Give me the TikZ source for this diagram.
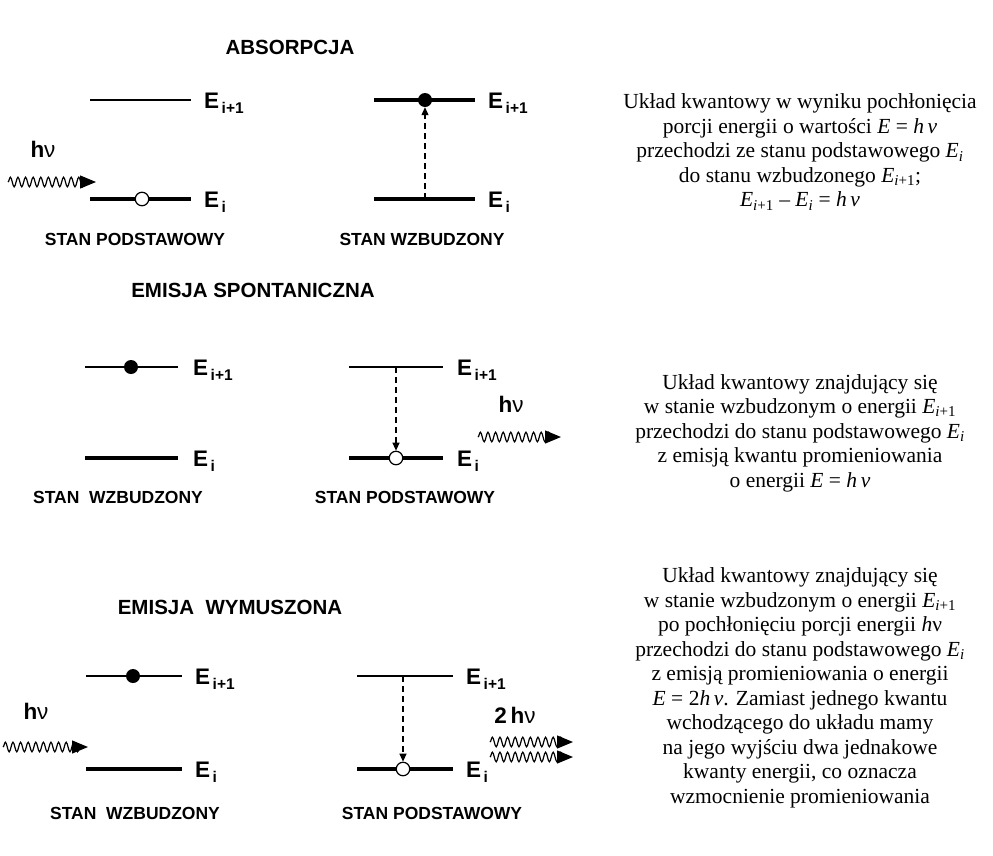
\documentclass[tikz,border=0pt]{standalone}
\usepackage{fontspec}
\setmainfont{Liberation Serif}
\newfontfamily\arialfont{Liberation Sans}
\usetikzlibrary{arrows.meta,decorations.pathmorphing}

% energy level label: bold E with a lowered index
\newcommand\Elab[1]{{\arialfont\bfseries\fontsize{22.5}{22.5}\selectfont E\kern2.5pt\raisebox{-5.5pt}{\fontsize{15.5}{15.5}\selectfont #1}}}
% photon label
\newcommand\hnu[1]{{\arialfont\fontsize{22.5}{22.5}\selectfont\textbf{#1h}ν}}
% italic quantities in the descriptions
\newcommand\iE{\textit{E}}
\newcommand\Eup{\textit{E}\textsubscript{\textit{i}+1}}
\newcommand\Elow{\textit{E}\textsubscript{\textit{i}}}

\tikzset{
  lvlthin/.style={line width=2pt},
  lvlthick/.style={line width=3.2pt},
  fulldot/.style={circle, fill=black, minimum size=14pt, inner sep=0pt},
  hole/.style={circle, draw=black, fill=white, line width=1.2pt, minimum size=13.5pt, inner sep=0pt},
  elabel/.style={anchor=base west, inner sep=0pt},
  jump/.style={dash pattern=on 6pt off 4pt, line width=1.2pt, -{Triangle[length=8pt,width=7pt]}},
  photon/.style={decorate, decoration={snake, segment length=7.6pt, amplitude=4.8pt, post length=8pt},
                 line width=1.2pt, -{Triangle[length=16pt,width=13pt]}},
  title/.style={font=\arialfont\bfseries\fontsize{20.5}{20.5}\selectfont},
  state/.style={font=\arialfont\bfseries\fontsize{17.5}{17.5}\selectfont},
  photlabel/.style={inner sep=0pt},
  desc/.style={align=center, font=\fontsize{21.5}{24.5}\selectfont}
}

\begin{document}
\begin{tikzpicture}[x=1pt,y=-1pt]
\useasboundingbox (0,0) rectangle (993,855);

% ---------------- ABSORPCJA ----------------
\node[title] (tA) at (290,47) {ABSORPCJA};

% ground state, left
\coordinate (a1tl) at (90,100);  \coordinate (a1tr) at (191,100);
\coordinate (a1bl) at (90,199);  \coordinate (a1br) at (191,199);
\draw[lvlthin]  (a1tl) -- (a1tr);
\draw[lvlthick] (a1bl) -- (a1br);
\node[hole] (a1hole) at (142,199) {};
\node[elabel] (a1Eu) at (204,108) {\Elab{i+1}};
\node[elabel] (a1El) at (204,207) {\Elab{i}};
\node[photlabel] (a1hv) at (43,149) {\hnu{}};
\coordinate (a1ws) at (8,182); \coordinate (a1we) at (96,182);
\draw[photon] (a1ws) -- (a1we);
\node[state] (a1st) at (135,239) {STAN PODSTAWOWY};

% excited state, right
\coordinate (a2tl) at (374,100); \coordinate (a2tr) at (475,100);
\coordinate (a2bl) at (374,199); \coordinate (a2br) at (475,199);
\coordinate (a2from) at (425,199);
\draw[lvlthick] (a2tl) -- (a2tr);
\draw[lvlthick] (a2bl) -- (a2br);
\node[fulldot] (a2dot) at (425,100) {};
\draw[jump] (a2from) -- (a2dot.south);
\node[elabel] (a2Eu) at (488,108) {\Elab{i+1}};
\node[elabel] (a2El) at (488,207) {\Elab{i}};
\node[state] (a2st) at (422,239) {STAN WZBUDZONY};

\node[desc] (dA) at (800,152) {Układ kwantowy w wyniku pochłonięcia\\
porcji energii o wartości \iE{} = \textit{h}\,\textit{ν}\\
przechodzi ze stanu podstawowego \Elow\\
do stanu wzbudzonego \Eup;\\
\Eup{} -- \Elow{} = \textit{h}\,\textit{ν}};

% ---------------- EMISJA SPONTANICZNA ----------------
\node[title] (tB) at (253,290) {EMISJA SPONTANICZNA};

\coordinate (b1tl) at (85,367);  \coordinate (b1tr) at (178,367);
\coordinate (b1bl) at (85,458);  \coordinate (b1br) at (178,458);
\draw[lvlthin]  (b1tl) -- (b1tr);
\draw[lvlthick] (b1bl) -- (b1br);
\node[fulldot] (b1dot) at (131,367) {};
\node[elabel] (b1Eu) at (193,375) {\Elab{i+1}};
\node[elabel] (b1El) at (193,466) {\Elab{i}};
\node[state] (b1st) at (118,497) {STAN\ \ WZBUDZONY};

\coordinate (b2tl) at (349,367); \coordinate (b2tr) at (443,367);
\coordinate (b2bl) at (349,458); \coordinate (b2br) at (443,458);
\coordinate (b2from) at (396,367);
\draw[lvlthin]  (b2tl) -- (b2tr);
\draw[lvlthick] (b2bl) -- (b2br);
\node[hole] (b2hole) at (396,458) {};
\draw[jump] (b2from) -- (b2hole.north);
\node[elabel] (b2Eu) at (457,375) {\Elab{i+1}};
\node[elabel] (b2El) at (457,466) {\Elab{i}};
\node[photlabel] (b2hv) at (511,404) {\hnu{}};
\coordinate (b2ws) at (478,437); \coordinate (b2we) at (561,437);
\draw[photon] (b2ws) -- (b2we);
\node[state] (b2st) at (405,497) {STAN PODSTAWOWY};

\node[desc] (dB) at (800,433) {Układ kwantowy znajdujący się\\
w stanie wzbudzonym o energii \Eup\\
przechodzi do stanu podstawowego \Elow\\
z emisją kwantu promieniowania\\
o energii \iE{} = \textit{h}\,\textit{ν}};

% ---------------- EMISJA WYMUSZONA ----------------
\node[title] (tC) at (230,607) {EMISJA\ \ WYMUSZONA};

\coordinate (c1tl) at (86,676);  \coordinate (c1tr) at (182,676);
\coordinate (c1bl) at (86,769);  \coordinate (c1br) at (182,769);
\draw[lvlthin]  (c1tl) -- (c1tr);
\draw[lvlthick] (c1bl) -- (c1br);
\node[fulldot] (c1dot) at (133,676) {};
\node[elabel] (c1Eu) at (195,684) {\Elab{i+1}};
\node[elabel] (c1El) at (195,777) {\Elab{i}};
\node[photlabel] (c1hv) at (36,711) {\hnu{}};
\coordinate (c1ws) at (3,747); \coordinate (c1we) at (88,747);
\draw[photon] (c1ws) -- (c1we);
\node[state] (c1st) at (135,813) {STAN\ \ WZBUDZONY};

\coordinate (c2tl) at (357,676); \coordinate (c2tr) at (453,676);
\coordinate (c2bl) at (357,769); \coordinate (c2br) at (453,769);
\coordinate (c2from) at (403,676);
\draw[lvlthin]  (c2tl) -- (c2tr);
\draw[lvlthick] (c2bl) -- (c2br);
\node[hole] (c2hole) at (403,769) {};
\draw[jump] (c2from) -- (c2hole.north);
\node[elabel] (c2Eu) at (466,684) {\Elab{i+1}};
\node[elabel] (c2El) at (466,777) {\Elab{i}};
\node[photlabel] (c2hv) at (515,715) {\hnu{2\,}};
\coordinate (c2ws1) at (490,742); \coordinate (c2we1) at (573,742);
\coordinate (c2ws2) at (490,757); \coordinate (c2we2) at (573,757);
\draw[photon] (c2ws1) -- (c2we1);
\draw[photon] (c2ws2) -- (c2we2);
\node[state] (c2st) at (432,813) {STAN PODSTAWOWY};

\node[desc] (dC) at (800,688) {Układ kwantowy znajdujący się\\
w stanie wzbudzonym o energii \Eup\\
po pochłonięciu porcji energii \textit{h}ν\\
przechodzi do stanu podstawowego \Elow\\
z emisją promieniowania o energii\\
\iE{} = 2\textit{h}\,\textit{ν}. Zamiast jednego kwantu\\
wchodzącego do układu mamy\\
na jego wyjściu dwa jednakowe\\
kwanty energii, co oznacza\\
wzmocnienie promieniowania};
\end{tikzpicture}
\end{document}
